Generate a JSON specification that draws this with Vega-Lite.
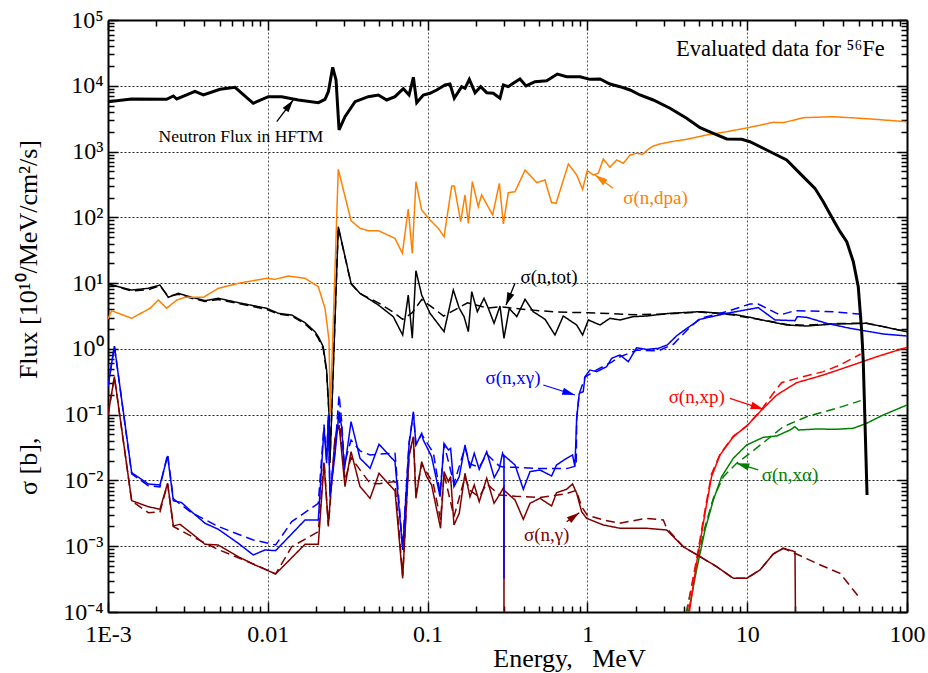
{
  "$schema": "https://vega.github.io/schema/vega-lite/v6.json",
  "width": 799,
  "height": 592,
  "autosize": {"type": "none"},
  "padding": {"left": 108, "top": 20, "right": 21, "bottom": 61},
  "background": "white",
  "config": {"view": {"stroke": null}, "font": "Liberation Serif"},
  "datasets": {
    "flux": [
      {"log10E":-3.000,"log10y":3.758},{"log10E":-2.852,"log10y":3.799},{"log10E":-2.633,"log10y":3.794},{"log10E":-2.591,"log10y":3.845},{"log10E":-2.570,"log10y":3.799},{"log10E":-2.508,"log10y":3.860},{"log10E":-2.456,"log10y":3.916},{"log10E":-2.403,"log10y":3.860},{"log10E":-2.299,"log10y":3.946},{"log10E":-2.205,"log10y":3.977},{"log10E":-2.091,"log10y":3.734},{"log10E":-1.997,"log10y":3.834},{"log10E":-1.913,"log10y":3.834},{"log10E":-1.809,"log10y":3.784},{"log10E":-1.684,"log10y":3.743},{"log10E":-1.642,"log10y":3.794},{"log10E":-1.621,"log10y":3.910},{"log10E":-1.594,"log10y":4.281},{"log10E":-1.573,"log10y":4.088},{"log10E":-1.554,"log10y":3.328},{"log10E":-1.517,"log10y":3.530},{"log10E":-1.454,"log10y":3.758},{"log10E":-1.371,"log10y":3.834},{"log10E":-1.308,"log10y":3.860},{"log10E":-1.256,"log10y":3.784},{"log10E":-1.204,"log10y":3.834},{"log10E":-1.152,"log10y":3.956},{"log10E":-1.116,"log10y":3.860},{"log10E":-1.089,"log10y":4.129},{"log10E":-1.068,"log10y":3.743},{"log10E":-1.027,"log10y":3.860},{"log10E":-0.985,"log10y":3.886},{"log10E":-0.943,"log10y":3.936},{"log10E":-0.891,"log10y":4.012},{"log10E":-0.860,"log10y":4.027},{"log10E":-0.833,"log10y":3.810},{"log10E":-0.787,"log10y":3.986},{"log10E":-0.766,"log10y":3.961},{"log10E":-0.739,"log10y":4.098},{"log10E":-0.703,"log10y":3.895},{"log10E":-0.668,"log10y":3.986},{"log10E":-0.630,"log10y":3.895},{"log10E":-0.589,"log10y":3.886},{"log10E":-0.547,"log10y":3.810},{"log10E":-0.526,"log10y":4.012},{"log10E":-0.495,"log10y":3.986},{"log10E":-0.464,"log10y":4.038},{"log10E":-0.422,"log10y":4.103},{"log10E":-0.384,"log10y":3.997},{"log10E":-0.328,"log10y":4.062},{"log10E":-0.255,"log10y":4.077},{"log10E":-0.188,"log10y":4.179},{"log10E":-0.130,"log10y":4.138},{"log10E":-0.046,"log10y":4.138},{"log10E":0.016,"log10y":4.098},{"log10E":0.079,"log10y":4.103},{"log10E":0.141,"log10y":4.027},{"log10E":0.204,"log10y":3.986},{"log10E":0.267,"log10y":3.936},{"log10E":0.329,"log10y":3.860},{"log10E":0.412,"log10y":3.784},{"log10E":0.517,"log10y":3.658},{"log10E":0.621,"log10y":3.506},{"log10E":0.705,"log10y":3.363},{"log10E":0.788,"log10y":3.277},{"log10E":0.872,"log10y":3.191},{"log10E":0.966,"log10y":3.186},{"log10E":1.017,"log10y":3.150},{"log10E":1.122,"log10y":3.024},{"log10E":1.247,"log10y":2.872},{"log10E":1.330,"log10y":2.669},{"log10E":1.424,"log10y":2.441},{"log10E":1.476,"log10y":2.238},{"log10E":1.539,"log10y":1.960},{"log10E":1.581,"log10y":1.782},{"log10E":1.623,"log10y":1.630},{"log10E":1.664,"log10y":1.326},{"log10E":1.695,"log10y":0.946},{"log10E":1.716,"log10y":0.287},{"log10E":1.726,"log10y":-0.169},{"log10E":1.750,"log10y":-2.221}
    ],
    "curves": [
      {"series":"tot","lib":"A","log10E":-3.000,"log10y":0.987},{"series":"tot","lib":"A","log10E":-2.852,"log10y":0.895},{"series":"tot","lib":"A","log10E":-2.748,"log10y":0.921},{"series":"tot","lib":"A","log10E":-2.675,"log10y":0.971},{"series":"tot","lib":"A","log10E":-2.623,"log10y":0.784},{"series":"tot","lib":"A","log10E":-2.560,"log10y":0.845},{"series":"tot","lib":"A","log10E":-2.477,"log10y":0.784},{"series":"tot","lib":"A","log10E":-2.393,"log10y":0.733},{"series":"tot","lib":"A","log10E":-2.310,"log10y":0.769},{"series":"tot","lib":"A","log10E":-2.185,"log10y":0.703},{"series":"tot","lib":"A","log10E":-2.007,"log10y":0.617},{"series":"tot","lib":"A","log10E":-1.934,"log10y":0.541},{"series":"tot","lib":"A","log10E":-1.850,"log10y":0.515},{"series":"tot","lib":"A","log10E":-1.767,"log10y":0.398},{"series":"tot","lib":"A","log10E":-1.705,"log10y":0.262},{"series":"tot","lib":"A","log10E":-1.684,"log10y":0.185},{"series":"tot","lib":"A","log10E":-1.653,"log10y":0.033},{"series":"tot","lib":"A","log10E":-1.632,"log10y":-0.321},{"series":"tot","lib":"A","log10E":-1.617,"log10y":-0.979},{"series":"tot","lib":"A","log10E":-1.611,"log10y":-1.735},{"series":"tot","lib":"A","log10E":-1.559,"log10y":1.858},{"series":"tot","lib":"A","log10E":-1.479,"log10y":0.997},{"series":"tot","lib":"A","log10E":-1.423,"log10y":0.845},{"series":"tot","lib":"A","log10E":-1.308,"log10y":0.667},{"series":"tot","lib":"A","log10E":-1.215,"log10y":0.490},{"series":"tot","lib":"A","log10E":-1.156,"log10y":0.211},{"series":"tot","lib":"A","log10E":-1.121,"log10y":0.819},{"series":"tot","lib":"A","log10E":-1.096,"log10y":0.161},{"series":"tot","lib":"A","log10E":-1.073,"log10y":1.189},{"series":"tot","lib":"A","log10E":-1.037,"log10y":0.819},{"series":"tot","lib":"A","log10E":-0.985,"log10y":0.541},{"series":"tot","lib":"A","log10E":-0.897,"log10y":0.262},{"series":"tot","lib":"A","log10E":-0.839,"log10y":0.895},{"series":"tot","lib":"A","log10E":-0.802,"log10y":0.617},{"series":"tot","lib":"A","log10E":-0.772,"log10y":0.490},{"series":"tot","lib":"A","log10E":-0.745,"log10y":0.262},{"series":"tot","lib":"A","log10E":-0.724,"log10y":0.870},{"series":"tot","lib":"A","log10E":-0.689,"log10y":0.566},{"series":"tot","lib":"A","log10E":-0.647,"log10y":0.769},{"series":"tot","lib":"A","log10E":-0.620,"log10y":0.617},{"series":"tot","lib":"A","log10E":-0.584,"log10y":0.389},{"series":"tot","lib":"A","log10E":-0.547,"log10y":0.652},{"series":"tot","lib":"A","log10E":-0.522,"log10y":0.161},{"series":"tot","lib":"A","log10E":-0.489,"log10y":0.617},{"series":"tot","lib":"A","log10E":-0.442,"log10y":0.490},{"series":"tot","lib":"A","log10E":-0.390,"log10y":0.754},{"series":"tot","lib":"A","log10E":-0.339,"log10y":0.566},{"series":"tot","lib":"A","log10E":-0.265,"log10y":0.450},{"series":"tot","lib":"A","log10E":-0.203,"log10y":0.211},{"series":"tot","lib":"A","log10E":-0.151,"log10y":0.500},{"series":"tot","lib":"A","log10E":-0.067,"log10y":0.363},{"series":"tot","lib":"A","log10E":-0.030,"log10y":0.211},{"series":"tot","lib":"A","log10E":0.006,"log10y":0.440},{"series":"tot","lib":"A","log10E":0.079,"log10y":0.363},{"series":"tot","lib":"A","log10E":0.141,"log10y":0.465},{"series":"tot","lib":"A","log10E":0.204,"log10y":0.440},{"series":"tot","lib":"A","log10E":0.287,"log10y":0.490},{"series":"tot","lib":"A","log10E":0.371,"log10y":0.500},{"series":"tot","lib":"A","log10E":0.517,"log10y":0.541},{"series":"tot","lib":"A","log10E":0.705,"log10y":0.566},{"series":"tot","lib":"A","log10E":0.913,"log10y":0.526},{"series":"tot","lib":"A","log10E":1.017,"log10y":0.480},{"series":"tot","lib":"A","log10E":1.122,"log10y":0.424},{"series":"tot","lib":"A","log10E":1.247,"log10y":0.363},{"series":"tot","lib":"A","log10E":1.372,"log10y":0.348},{"series":"tot","lib":"A","log10E":1.539,"log10y":0.378},{"series":"tot","lib":"A","log10E":1.747,"log10y":0.389},{"series":"tot","lib":"A","log10E":1.831,"log10y":0.348},{"series":"tot","lib":"A","log10E":1.998,"log10y":0.262},
      {"series":"tot","lib":"B","log10E":-3.000,"log10y":0.987},{"series":"tot","lib":"B","log10E":-2.852,"log10y":0.88},{"series":"tot","lib":"B","log10E":-2.748,"log10y":0.90},{"series":"tot","lib":"B","log10E":-2.675,"log10y":0.96},{"series":"tot","lib":"B","log10E":-2.623,"log10y":0.80},{"series":"tot","lib":"B","log10E":-2.560,"log10y":0.83},{"series":"tot","lib":"B","log10E":-2.477,"log10y":0.77},{"series":"tot","lib":"B","log10E":-2.393,"log10y":0.72},{"series":"tot","lib":"B","log10E":-2.310,"log10y":0.75},{"series":"tot","lib":"B","log10E":-2.185,"log10y":0.69},{"series":"tot","lib":"B","log10E":-2.007,"log10y":0.60},{"series":"tot","lib":"B","log10E":-1.934,"log10y":0.53},{"series":"tot","lib":"B","log10E":-1.850,"log10y":0.50},{"series":"tot","lib":"B","log10E":-1.767,"log10y":0.38},{"series":"tot","lib":"B","log10E":-1.705,"log10y":0.24},{"series":"tot","lib":"B","log10E":-1.684,"log10y":0.16},{"series":"tot","lib":"B","log10E":-1.653,"log10y":0.0},{"series":"tot","lib":"B","log10E":-1.632,"log10y":-0.35},{"series":"tot","lib":"B","log10E":-1.617,"log10y":-0.98},{"series":"tot","lib":"B","log10E":-1.611,"log10y":-1.70},{"series":"tot","lib":"B","log10E":-1.559,"log10y":1.85},{"series":"tot","lib":"B","log10E":-1.479,"log10y":0.99},{"series":"tot","lib":"B","log10E":-1.423,"log10y":0.84},{"series":"tot","lib":"B","log10E":-1.308,"log10y":0.70},{"series":"tot","lib":"B","log10E":-1.215,"log10y":0.56},{"series":"tot","lib":"B","log10E":-1.156,"log10y":0.45},{"series":"tot","lib":"B","log10E":-1.096,"log10y":0.55},{"series":"tot","lib":"B","log10E":-1.037,"log10y":0.75},{"series":"tot","lib":"B","log10E":-0.964,"log10y":0.62},{"series":"tot","lib":"B","log10E":-0.900,"log10y":0.50},{"series":"tot","lib":"B","log10E":-0.750,"log10y":0.70},{"series":"tot","lib":"B","log10E":-0.620,"log10y":0.62},{"series":"tot","lib":"B","log10E":-0.550,"log10y":0.64},{"series":"tot","lib":"B","log10E":-0.390,"log10y":0.60},{"series":"tot","lib":"B","log10E":-0.200,"log10y":0.56},{"series":"tot","lib":"B","log10E":0.000,"log10y":0.55},{"series":"tot","lib":"B","log10E":0.300,"log10y":0.52},{"series":"tot","lib":"B","log10E":0.500,"log10y":0.53},{"series":"tot","lib":"B","log10E":0.700,"log10y":0.56},{"series":"tot","lib":"B","log10E":0.900,"log10y":0.52},{"series":"tot","lib":"B","log10E":1.120,"log10y":0.43},{"series":"tot","lib":"B","log10E":1.250,"log10y":0.37},{"series":"tot","lib":"B","log10E":1.370,"log10y":0.36},{"series":"tot","lib":"B","log10E":1.540,"log10y":0.385},{"series":"tot","lib":"B","log10E":1.747,"log10y":0.39},{"series":"tot","lib":"B","log10E":1.830,"log10y":0.35},{"series":"tot","lib":"B","log10E":2.000,"log10y":0.26},
      {"series":"dpa","lib":"A","log10E":-3.000,"log10y":0.455},{"series":"dpa","lib":"A","log10E":-2.977,"log10y":0.581},{"series":"dpa","lib":"A","log10E":-2.852,"log10y":0.465},{"series":"dpa","lib":"A","log10E":-2.737,"log10y":0.617},{"series":"dpa","lib":"A","log10E":-2.685,"log10y":0.743},{"series":"dpa","lib":"A","log10E":-2.633,"log10y":0.617},{"series":"dpa","lib":"A","log10E":-2.570,"log10y":0.743},{"series":"dpa","lib":"A","log10E":-2.518,"log10y":0.784},{"series":"dpa","lib":"A","log10E":-2.403,"log10y":0.784},{"series":"dpa","lib":"A","log10E":-2.310,"log10y":0.921},{"series":"dpa","lib":"A","log10E":-2.185,"log10y":0.997},{"series":"dpa","lib":"A","log10E":-2.007,"log10y":1.073},{"series":"dpa","lib":"A","log10E":-1.955,"log10y":1.058},{"series":"dpa","lib":"A","log10E":-1.872,"log10y":1.108},{"series":"dpa","lib":"A","log10E":-1.767,"log10y":1.073},{"series":"dpa","lib":"A","log10E":-1.684,"log10y":0.946},{"series":"dpa","lib":"A","log10E":-1.642,"log10y":0.617},{"series":"dpa","lib":"A","log10E":-1.617,"log10y":0.135},{"series":"dpa","lib":"A","log10E":-1.609,"log10y":-0.979},{"series":"dpa","lib":"A","log10E":-1.559,"log10y":2.730},{"series":"dpa","lib":"A","log10E":-1.479,"log10y":1.949},{"series":"dpa","lib":"A","log10E":-1.423,"log10y":1.833},{"series":"dpa","lib":"A","log10E":-1.371,"log10y":1.797},{"series":"dpa","lib":"A","log10E":-1.308,"log10y":1.797},{"series":"dpa","lib":"A","log10E":-1.204,"log10y":1.681},{"series":"dpa","lib":"A","log10E":-1.158,"log10y":1.453},{"series":"dpa","lib":"A","log10E":-1.121,"log10y":2.127},{"series":"dpa","lib":"A","log10E":-1.096,"log10y":1.453},{"series":"dpa","lib":"A","log10E":-1.073,"log10y":2.542},{"series":"dpa","lib":"A","log10E":-1.037,"log10y":2.112},{"series":"dpa","lib":"A","log10E":-0.985,"log10y":1.960},{"series":"dpa","lib":"A","log10E":-0.933,"log10y":1.833},{"series":"dpa","lib":"A","log10E":-0.897,"log10y":1.706},{"series":"dpa","lib":"A","log10E":-0.849,"log10y":2.476},{"series":"dpa","lib":"A","log10E":-0.833,"log10y":2.476},{"series":"dpa","lib":"A","log10E":-0.793,"log10y":1.934},{"series":"dpa","lib":"A","log10E":-0.766,"log10y":2.340},{"series":"dpa","lib":"A","log10E":-0.745,"log10y":1.909},{"series":"dpa","lib":"A","log10E":-0.720,"log10y":2.542},{"series":"dpa","lib":"A","log10E":-0.683,"log10y":2.162},{"series":"dpa","lib":"A","log10E":-0.662,"log10y":2.340},{"series":"dpa","lib":"A","log10E":-0.593,"log10y":2.036},{"series":"dpa","lib":"A","log10E":-0.551,"log10y":2.517},{"series":"dpa","lib":"A","log10E":-0.526,"log10y":1.899},{"series":"dpa","lib":"A","log10E":-0.495,"log10y":2.375},{"series":"dpa","lib":"A","log10E":-0.453,"log10y":2.390},{"series":"dpa","lib":"A","log10E":-0.390,"log10y":2.720},{"series":"dpa","lib":"A","log10E":-0.317,"log10y":2.527},{"series":"dpa","lib":"A","log10E":-0.265,"log10y":2.568},{"series":"dpa","lib":"A","log10E":-0.255,"log10y":2.476},{"series":"dpa","lib":"A","log10E":-0.224,"log10y":2.223},{"series":"dpa","lib":"A","log10E":-0.196,"log10y":2.213},{"series":"dpa","lib":"A","log10E":-0.119,"log10y":2.811},{"series":"dpa","lib":"A","log10E":-0.067,"log10y":2.644},{"series":"dpa","lib":"A","log10E":-0.030,"log10y":2.426},{"series":"dpa","lib":"A","log10E":-0.001,"log10y":2.710},{"series":"dpa","lib":"A","log10E":0.037,"log10y":2.644},{"series":"dpa","lib":"A","log10E":0.068,"log10y":2.670},{"series":"dpa","lib":"A","log10E":0.100,"log10y":2.887},{"series":"dpa","lib":"A","log10E":0.141,"log10y":2.761},{"series":"dpa","lib":"A","log10E":0.183,"log10y":2.872},{"series":"dpa","lib":"A","log10E":0.225,"log10y":2.822},{"series":"dpa","lib":"A","log10E":0.267,"log10y":2.948},{"series":"dpa","lib":"A","log10E":0.308,"log10y":2.974},{"series":"dpa","lib":"A","log10E":0.346,"log10y":2.958},{"series":"dpa","lib":"A","log10E":0.375,"log10y":3.024},{"series":"dpa","lib":"A","log10E":0.412,"log10y":3.085},{"series":"dpa","lib":"A","log10E":0.454,"log10y":3.115},{"series":"dpa","lib":"A","log10E":0.538,"log10y":3.156},{"series":"dpa","lib":"A","log10E":0.621,"log10y":3.186},{"series":"dpa","lib":"A","log10E":0.746,"log10y":3.252},{"series":"dpa","lib":"A","log10E":0.872,"log10y":3.302},{"series":"dpa","lib":"A","log10E":1.007,"log10y":3.363},{"series":"dpa","lib":"A","log10E":1.163,"log10y":3.445},{"series":"dpa","lib":"A","log10E":1.226,"log10y":3.439},{"series":"dpa","lib":"A","log10E":1.351,"log10y":3.515},{"series":"dpa","lib":"A","log10E":1.539,"log10y":3.530},{"series":"dpa","lib":"A","log10E":1.747,"log10y":3.500},{"series":"dpa","lib":"A","log10E":1.997,"log10y":3.454},
      {"series":"xa","lib":"A","log10E":0.631,"log10y":-4.02},{"series":"xa","lib":"A","log10E":0.683,"log10y":-3.361},{"series":"xa","lib":"A","log10E":0.736,"log10y":-2.753},{"series":"xa","lib":"A","log10E":0.788,"log10y":-2.297},{"series":"xa","lib":"A","log10E":0.840,"log10y":-1.942},{"series":"xa","lib":"A","log10E":0.913,"log10y":-1.663},{"series":"xa","lib":"A","log10E":0.997,"log10y":-1.461},{"series":"xa","lib":"A","log10E":1.101,"log10y":-1.344},{"series":"xa","lib":"A","log10E":1.185,"log10y":-1.324},{"series":"xa","lib":"A","log10E":1.268,"log10y":-1.233},{"series":"xa","lib":"A","log10E":1.299,"log10y":-1.182},{"series":"xa","lib":"A","log10E":1.320,"log10y":-1.233},{"series":"xa","lib":"A","log10E":1.434,"log10y":-1.218},{"series":"xa","lib":"A","log10E":1.560,"log10y":-1.222},{"series":"xa","lib":"A","log10E":1.664,"log10y":-1.207},{"series":"xa","lib":"A","log10E":1.747,"log10y":-1.131},{"series":"xa","lib":"A","log10E":1.851,"log10y":-1.005},{"series":"xa","lib":"A","log10E":2.000,"log10y":-0.853},
      {"series":"xa","lib":"B","log10E":0.617,"log10y":-4.02},{"series":"xa","lib":"B","log10E":0.673,"log10y":-3.36},{"series":"xa","lib":"B","log10E":0.736,"log10y":-2.703},{"series":"xa","lib":"B","log10E":0.788,"log10y":-2.271},{"series":"xa","lib":"B","log10E":0.851,"log10y":-1.942},{"series":"xa","lib":"B","log10E":0.934,"log10y":-1.739},{"series":"xa","lib":"B","log10E":1.017,"log10y":-1.587},{"series":"xa","lib":"B","log10E":1.122,"log10y":-1.385},{"series":"xa","lib":"B","log10E":1.226,"log10y":-1.182},{"series":"xa","lib":"B","log10E":1.372,"log10y":-1.031},{"series":"xa","lib":"B","log10E":1.560,"log10y":-0.903},{"series":"xa","lib":"B","log10E":1.710,"log10y":-0.787},
      {"series":"xp","lib":"A","log10E":0.637,"log10y":-4.02},{"series":"xp","lib":"A","log10E":0.683,"log10y":-3.260},{"series":"xp","lib":"A","log10E":0.736,"log10y":-2.500},{"series":"xp","lib":"A","log10E":0.777,"log10y":-1.942},{"series":"xp","lib":"A","log10E":0.830,"log10y":-1.613},{"series":"xp","lib":"A","log10E":0.913,"log10y":-1.335},{"series":"xp","lib":"A","log10E":0.997,"log10y":-1.172},{"series":"xp","lib":"A","log10E":1.080,"log10y":-0.955},{"series":"xp","lib":"A","log10E":1.185,"log10y":-0.701},{"series":"xp","lib":"A","log10E":1.309,"log10y":-0.514},{"series":"xp","lib":"A","log10E":1.476,"log10y":-0.397},{"series":"xp","lib":"A","log10E":1.643,"log10y":-0.260},{"series":"xp","lib":"A","log10E":1.810,"log10y":-0.119},{"series":"xp","lib":"A","log10E":2.000,"log10y":0.024},
      {"series":"xp","lib":"B","log10E":0.622,"log10y":-4.02},{"series":"xp","lib":"B","log10E":0.683,"log10y":-3.20},{"series":"xp","lib":"B","log10E":0.736,"log10y":-2.45},{"series":"xp","lib":"B","log10E":0.777,"log10y":-1.90},{"series":"xp","lib":"B","log10E":0.830,"log10y":-1.60},{"series":"xp","lib":"B","log10E":0.913,"log10y":-1.33},{"series":"xp","lib":"B","log10E":0.997,"log10y":-1.17},{"series":"xp","lib":"B","log10E":1.080,"log10y":-0.955},{"series":"xp","lib":"B","log10E":1.163,"log10y":-0.675},{"series":"xp","lib":"B","log10E":1.215,"log10y":-0.514},{"series":"xp","lib":"B","log10E":1.309,"log10y":-0.448},{"series":"xp","lib":"B","log10E":1.476,"log10y":-0.346},{"series":"xp","lib":"B","log10E":1.581,"log10y":-0.245},{"series":"xp","lib":"B","log10E":1.710,"log10y":-0.078},
      {"series":"g","lib":"A","log10E":-3.000,"log10y":-1.005},{"series":"g","lib":"A","log10E":-2.960,"log10y":-0.423},{"series":"g","lib":"A","log10E":-2.852,"log10y":-2.307},{"series":"g","lib":"A","log10E":-2.748,"log10y":-2.399},{"series":"g","lib":"A","log10E":-2.675,"log10y":-2.438},{"series":"g","lib":"A","log10E":-2.627,"log10y":-2.043},{"series":"g","lib":"A","log10E":-2.591,"log10y":-2.692},{"series":"g","lib":"A","log10E":-2.550,"log10y":-2.666},{"series":"g","lib":"A","log10E":-2.477,"log10y":-2.804},{"series":"g","lib":"A","log10E":-2.393,"log10y":-2.970},{"series":"g","lib":"A","log10E":-2.310,"log10y":-2.981},{"series":"g","lib":"A","log10E":-2.185,"log10y":-3.159},{"series":"g","lib":"A","log10E":-2.080,"log10y":-3.285},{"series":"g","lib":"A","log10E":-1.951,"log10y":-3.422},{"series":"g","lib":"A","log10E":-1.767,"log10y":-2.970},{"series":"g","lib":"A","log10E":-1.684,"log10y":-2.970},{"series":"g","lib":"A","log10E":-1.648,"log10y":-1.739},{"series":"g","lib":"A","log10E":-1.621,"log10y":-2.677},{"series":"g","lib":"A","log10E":-1.580,"log10y":-1.360},{"series":"g","lib":"A","log10E":-1.554,"log10y":-1.157},{"series":"g","lib":"A","log10E":-1.517,"log10y":-2.094},{"series":"g","lib":"A","log10E":-1.479,"log10y":-1.562},{"series":"g","lib":"A","log10E":-1.423,"log10y":-2.094},{"series":"g","lib":"A","log10E":-1.360,"log10y":-2.271},{"series":"g","lib":"A","log10E":-1.304,"log10y":-1.891},{"series":"g","lib":"A","log10E":-1.204,"log10y":-2.160},{"series":"g","lib":"A","log10E":-1.156,"log10y":-3.488},{"series":"g","lib":"A","log10E":-1.116,"log10y":-1.613},{"series":"g","lib":"A","log10E":-1.089,"log10y":-1.335},{"series":"g","lib":"A","log10E":-1.073,"log10y":-2.271},{"series":"g","lib":"A","log10E":-1.037,"log10y":-1.714},{"series":"g","lib":"A","log10E":-1.006,"log10y":-1.942},{"series":"g","lib":"A","log10E":-0.975,"log10y":-2.069},{"series":"g","lib":"A","log10E":-0.919,"log10y":-2.727},{"series":"g","lib":"A","log10E":-0.897,"log10y":-1.866},{"series":"g","lib":"A","log10E":-0.870,"log10y":-2.018},{"series":"g","lib":"A","log10E":-0.856,"log10y":-1.942},{"series":"g","lib":"A","log10E":-0.835,"log10y":-2.677},{"series":"g","lib":"A","log10E":-0.802,"log10y":-2.500},{"series":"g","lib":"A","log10E":-0.766,"log10y":-1.891},{"series":"g","lib":"A","log10E":-0.735,"log10y":-2.247},{"series":"g","lib":"A","log10E":-0.708,"log10y":-2.069},{"series":"g","lib":"A","log10E":-0.677,"log10y":-2.323},{"series":"g","lib":"A","log10E":-0.630,"log10y":-1.967},{"series":"g","lib":"A","log10E":-0.584,"log10y":-2.347},{"series":"g","lib":"A","log10E":-0.551,"log10y":-2.221},{"series":"g","lib":"A","log10E":-0.5225,"log10y":-2.10},{"series":"g","lib":"A","log10E":-0.5220,"log10y":-4.5},{"series":"g","lib":"A","log10E":-0.5215,"log10y":-2.15},{"series":"g","lib":"A","log10E":-0.453,"log10y":-2.297},{"series":"g","lib":"A","log10E":-0.401,"log10y":-2.591},{"series":"g","lib":"A","log10E":-0.359,"log10y":-2.347},{"series":"g","lib":"A","log10E":-0.297,"log10y":-2.271},{"series":"g","lib":"A","log10E":-0.224,"log10y":-2.388},{"series":"g","lib":"A","log10E":-0.193,"log10y":-2.186},{"series":"g","lib":"A","log10E":-0.130,"log10y":-2.134},{"series":"g","lib":"A","log10E":-0.093,"log10y":-2.054},{"series":"g","lib":"A","log10E":-0.067,"log10y":-2.195},{"series":"g","lib":"A","log10E":-0.036,"log10y":-2.475},{"series":"g","lib":"A","log10E":-0.005,"log10y":-2.576},{"series":"g","lib":"A","log10E":0.100,"log10y":-2.677},{"series":"g","lib":"A","log10E":0.204,"log10y":-2.727},{"series":"g","lib":"A","log10E":0.371,"log10y":-2.727},{"series":"g","lib":"A","log10E":0.496,"log10y":-2.753},{"series":"g","lib":"A","log10E":0.600,"log10y":-3.007},{"series":"g","lib":"A","log10E":0.705,"log10y":-3.159},{"series":"g","lib":"A","log10E":0.809,"log10y":-3.311},{"series":"g","lib":"A","log10E":0.913,"log10y":-3.488},{"series":"g","lib":"A","log10E":0.997,"log10y":-3.488},{"series":"g","lib":"A","log10E":1.080,"log10y":-3.361},{"series":"g","lib":"A","log10E":1.163,"log10y":-3.118},{"series":"g","lib":"A","log10E":1.226,"log10y":-3.031},{"series":"g","lib":"A","log10E":1.299,"log10y":-3.083},{"series":"g","lib":"A","log10E":1.3035,"log10y":-4.5},
      {"series":"g","lib":"B","log10E":-3.000,"log10y":-1.005},{"series":"g","lib":"B","log10E":-2.960,"log10y":-0.423},{"series":"g","lib":"B","log10E":-2.852,"log10y":-2.31},{"series":"g","lib":"B","log10E":-2.748,"log10y":-2.49},{"series":"g","lib":"B","log10E":-2.675,"log10y":-2.48},{"series":"g","lib":"B","log10E":-2.627,"log10y":-2.05},{"series":"g","lib":"B","log10E":-2.591,"log10y":-2.70},{"series":"g","lib":"B","log10E":-2.477,"log10y":-2.85},{"series":"g","lib":"B","log10E":-2.310,"log10y":-3.05},{"series":"g","lib":"B","log10E":-2.091,"log10y":-3.27},{"series":"g","lib":"B","log10E":-1.951,"log10y":-3.42},{"series":"g","lib":"B","log10E":-1.850,"log10y":-3.007},{"series":"g","lib":"B","log10E":-1.684,"log10y":-2.779},{"series":"g","lib":"B","log10E":-1.648,"log10y":-1.70},{"series":"g","lib":"B","log10E":-1.621,"log10y":-2.70},{"series":"g","lib":"B","log10E":-1.580,"log10y":-1.40},{"series":"g","lib":"B","log10E":-1.554,"log10y":-1.05},{"series":"g","lib":"B","log10E":-1.517,"log10y":-2.0},{"series":"g","lib":"B","log10E":-1.479,"log10y":-1.65},{"series":"g","lib":"B","log10E":-1.423,"log10y":-1.84},{"series":"g","lib":"B","log10E":-1.360,"log10y":-2.043},{"series":"g","lib":"B","log10E":-1.304,"log10y":-2.05},{"series":"g","lib":"B","log10E":-1.204,"log10y":-2.018},{"series":"g","lib":"B","log10E":-1.156,"log10y":-3.45},{"series":"g","lib":"B","log10E":-1.116,"log10y":-1.62},{"series":"g","lib":"B","log10E":-1.089,"log10y":-1.35},{"series":"g","lib":"B","log10E":-1.073,"log10y":-2.2},{"series":"g","lib":"B","log10E":-1.037,"log10y":-1.75},{"series":"g","lib":"B","log10E":-0.964,"log10y":-2.05},{"series":"g","lib":"B","log10E":-0.919,"log10y":-2.6},{"series":"g","lib":"B","log10E":-0.897,"log10y":-1.90},{"series":"g","lib":"B","log10E":-0.835,"log10y":-2.55},{"series":"g","lib":"B","log10E":-0.766,"log10y":-1.95},{"series":"g","lib":"B","log10E":-0.735,"log10y":-2.15},{"series":"g","lib":"B","log10E":-0.677,"log10y":-2.25},{"series":"g","lib":"B","log10E":-0.630,"log10y":-2.05},{"series":"g","lib":"B","log10E":-0.551,"log10y":-2.22},{"series":"g","lib":"B","log10E":-0.450,"log10y":-2.24},{"series":"g","lib":"B","log10E":-0.300,"log10y":-2.26},{"series":"g","lib":"B","log10E":-0.130,"log10y":-2.20},{"series":"g","lib":"B","log10E":-0.070,"log10y":-2.15},{"series":"g","lib":"B","log10E":-0.036,"log10y":-2.40},{"series":"g","lib":"B","log10E":0.000,"log10y":-2.53},{"series":"g","lib":"B","log10E":0.100,"log10y":-2.60},{"series":"g","lib":"B","log10E":0.200,"log10y":-2.651},{"series":"g","lib":"B","log10E":0.370,"log10y":-2.576},{"series":"g","lib":"B","log10E":0.475,"log10y":-2.60},{"series":"g","lib":"B","log10E":0.496,"log10y":-2.727},{"series":"g","lib":"B","log10E":0.600,"log10y":-3.007},{"series":"g","lib":"B","log10E":0.705,"log10y":-3.159},{"series":"g","lib":"B","log10E":0.809,"log10y":-3.311},{"series":"g","lib":"B","log10E":0.913,"log10y":-3.488},{"series":"g","lib":"B","log10E":0.997,"log10y":-3.488},{"series":"g","lib":"B","log10E":1.080,"log10y":-3.361},{"series":"g","lib":"B","log10E":1.163,"log10y":-3.118},{"series":"g","lib":"B","log10E":1.226,"log10y":-3.031},{"series":"g","lib":"B","log10E":1.309,"log10y":-3.118},{"series":"g","lib":"B","log10E":1.434,"log10y":-3.260},{"series":"g","lib":"B","log10E":1.581,"log10y":-3.412},{"series":"g","lib":"B","log10E":1.706,"log10y":-3.792},
      {"series":"xg","lib":"A","log10E":-3.000,"log10y":-0.574},{"series":"xg","lib":"A","log10E":-2.960,"log10y":0.044},{"series":"xg","lib":"A","log10E":-2.852,"log10y":-1.882},{"series":"xg","lib":"A","log10E":-2.748,"log10y":-2.054},{"series":"xg","lib":"A","log10E":-2.675,"log10y":-2.069},{"series":"xg","lib":"A","log10E":-2.627,"log10y":-1.628},{"series":"xg","lib":"A","log10E":-2.591,"log10y":-2.307},{"series":"xg","lib":"A","log10E":-2.539,"log10y":-2.338},{"series":"xg","lib":"A","log10E":-2.477,"log10y":-2.475},{"series":"xg","lib":"A","log10E":-2.393,"log10y":-2.651},{"series":"xg","lib":"A","log10E":-2.310,"log10y":-2.742},{"series":"xg","lib":"A","log10E":-2.185,"log10y":-2.955},{"series":"xg","lib":"A","log10E":-2.091,"log10y":-3.133},{"series":"xg","lib":"A","log10E":-2.018,"log10y":-3.057},{"series":"xg","lib":"A","log10E":-1.951,"log10y":-3.067},{"series":"xg","lib":"A","log10E":-1.767,"log10y":-2.601},{"series":"xg","lib":"A","log10E":-1.684,"log10y":-2.601},{"series":"xg","lib":"A","log10E":-1.648,"log10y":-1.192},{"series":"xg","lib":"A","log10E":-1.632,"log10y":-1.739},{"series":"xg","lib":"A","log10E":-1.621,"log10y":-1.031},{"series":"xg","lib":"A","log10E":-1.611,"log10y":-2.247},{"series":"xg","lib":"A","log10E":-1.580,"log10y":-1.613},{"series":"xg","lib":"A","log10E":-1.554,"log10y":-0.955},{"series":"xg","lib":"A","log10E":-1.538,"log10y":-1.183},{"series":"xg","lib":"A","log10E":-1.521,"log10y":-1.841},{"series":"xg","lib":"A","log10E":-1.479,"log10y":-1.107},{"series":"xg","lib":"A","log10E":-1.423,"log10y":-1.663},{"series":"xg","lib":"A","log10E":-1.360,"log10y":-1.815},{"series":"xg","lib":"A","log10E":-1.304,"log10y":-1.450},{"series":"xg","lib":"A","log10E":-1.204,"log10y":-1.714},{"series":"xg","lib":"A","log10E":-1.156,"log10y":-3.057},{"series":"xg","lib":"A","log10E":-1.116,"log10y":-1.461},{"series":"xg","lib":"A","log10E":-1.089,"log10y":-0.955},{"series":"xg","lib":"A","log10E":-1.073,"log10y":-1.461},{"series":"xg","lib":"A","log10E":-1.037,"log10y":-1.284},{"series":"xg","lib":"A","log10E":-1.027,"log10y":-1.385},{"series":"xg","lib":"A","log10E":-0.975,"log10y":-1.638},{"series":"xg","lib":"A","log10E":-0.922,"log10y":-2.247},{"series":"xg","lib":"A","log10E":-0.897,"log10y":-1.436},{"series":"xg","lib":"A","log10E":-0.870,"log10y":-1.537},{"series":"xg","lib":"A","log10E":-0.856,"log10y":-1.512},{"series":"xg","lib":"A","log10E":-0.835,"log10y":-2.094},{"series":"xg","lib":"A","log10E":-0.802,"log10y":-1.942},{"series":"xg","lib":"A","log10E":-0.766,"log10y":-1.461},{"series":"xg","lib":"A","log10E":-0.735,"log10y":-1.815},{"series":"xg","lib":"A","log10E":-0.708,"log10y":-1.587},{"series":"xg","lib":"A","log10E":-0.677,"log10y":-1.831},{"series":"xg","lib":"A","log10E":-0.630,"log10y":-1.562},{"series":"xg","lib":"A","log10E":-0.583,"log10y":-1.957},{"series":"xg","lib":"A","log10E":-0.551,"log10y":-1.815},{"series":"xg","lib":"A","log10E":-0.531,"log10y":-1.587},{"series":"xg","lib":"A","log10E":-0.5225,"log10y":-1.65},{"series":"xg","lib":"A","log10E":-0.5220,"log10y":-3.49},{"series":"xg","lib":"A","log10E":-0.5215,"log10y":-1.62},{"series":"xg","lib":"A","log10E":-0.453,"log10y":-1.765},{"series":"xg","lib":"A","log10E":-0.401,"log10y":-2.134},{"series":"xg","lib":"A","log10E":-0.359,"log10y":-1.866},{"series":"xg","lib":"A","log10E":-0.297,"log10y":-1.841},{"series":"xg","lib":"A","log10E":-0.224,"log10y":-1.932},{"series":"xg","lib":"A","log10E":-0.193,"log10y":-1.765},{"series":"xg","lib":"A","log10E":-0.130,"log10y":-1.663},{"series":"xg","lib":"A","log10E":-0.093,"log10y":-1.613},{"series":"xg","lib":"A","log10E":-0.078,"log10y":-1.790},{"series":"xg","lib":"A","log10E":-0.067,"log10y":-1.055},{"series":"xg","lib":"A","log10E":-0.051,"log10y":-0.675},{"series":"xg","lib":"A","log10E":-0.026,"log10y":-0.651},{"series":"xg","lib":"A","log10E":-0.015,"log10y":-0.423},{"series":"xg","lib":"A","log10E":0.016,"log10y":-0.321},{"series":"xg","lib":"A","log10E":0.058,"log10y":-0.346},{"series":"xg","lib":"A","log10E":0.120,"log10y":-0.271},{"series":"xg","lib":"A","log10E":0.152,"log10y":-0.143},{"series":"xg","lib":"A","log10E":0.204,"log10y":-0.093},{"series":"xg","lib":"A","log10E":0.256,"log10y":-0.195},{"series":"xg","lib":"A","log10E":0.308,"log10y":0.017},{"series":"xg","lib":"A","log10E":0.371,"log10y":-0.008},{"series":"xg","lib":"A","log10E":0.444,"log10y":0.009},{"series":"xg","lib":"A","log10E":0.500,"log10y":0.06},{"series":"xg","lib":"A","log10E":0.559,"log10y":0.20},{"series":"xg","lib":"A","log10E":0.621,"log10y":0.31},{"series":"xg","lib":"A","log10E":0.705,"log10y":0.450},{"series":"xg","lib":"A","log10E":0.872,"log10y":0.541},{"series":"xg","lib":"A","log10E":1.069,"log10y":0.627},{"series":"xg","lib":"A","log10E":1.174,"log10y":0.440},{"series":"xg","lib":"A","log10E":1.299,"log10y":0.429},{"series":"xg","lib":"A","log10E":1.313,"log10y":0.490},{"series":"xg","lib":"A","log10E":1.372,"log10y":0.480},{"series":"xg","lib":"A","log10E":1.497,"log10y":0.389},{"series":"xg","lib":"A","log10E":1.643,"log10y":0.313},{"series":"xg","lib":"A","log10E":1.851,"log10y":0.227},{"series":"xg","lib":"A","log10E":1.998,"log10y":0.196},
      {"series":"xg","lib":"B","log10E":-3.000,"log10y":-0.574},{"series":"xg","lib":"B","log10E":-2.960,"log10y":0.044},{"series":"xg","lib":"B","log10E":-2.852,"log10y":-1.90},{"series":"xg","lib":"B","log10E":-2.748,"log10y":-2.08},{"series":"xg","lib":"B","log10E":-2.675,"log10y":-2.10},{"series":"xg","lib":"B","log10E":-2.627,"log10y":-1.60},{"series":"xg","lib":"B","log10E":-2.591,"log10y":-2.28},{"series":"xg","lib":"B","log10E":-2.477,"log10y":-2.49},{"series":"xg","lib":"B","log10E":-2.310,"log10y":-2.70},{"series":"xg","lib":"B","log10E":-2.091,"log10y":-2.905},{"series":"xg","lib":"B","log10E":-1.951,"log10y":-2.98},{"series":"xg","lib":"B","log10E":-1.850,"log10y":-2.626},{"series":"xg","lib":"B","log10E":-1.684,"log10y":-2.347},{"series":"xg","lib":"B","log10E":-1.648,"log10y":-1.15},{"series":"xg","lib":"B","log10E":-1.632,"log10y":-1.70},{"series":"xg","lib":"B","log10E":-1.621,"log10y":-1.0},{"series":"xg","lib":"B","log10E":-1.611,"log10y":-2.2},{"series":"xg","lib":"B","log10E":-1.580,"log10y":-1.55},{"series":"xg","lib":"B","log10E":-1.554,"log10y":-0.701},{"series":"xg","lib":"B","log10E":-1.538,"log10y":-1.10},{"series":"xg","lib":"B","log10E":-1.521,"log10y":-1.75},{"series":"xg","lib":"B","log10E":-1.479,"log10y":-1.385},{"series":"xg","lib":"B","log10E":-1.423,"log10y":-1.55},{"series":"xg","lib":"B","log10E":-1.360,"log10y":-1.613},{"series":"xg","lib":"B","log10E":-1.304,"log10y":-1.60},{"series":"xg","lib":"B","log10E":-1.204,"log10y":-1.587},{"series":"xg","lib":"B","log10E":-1.156,"log10y":-3.007},{"series":"xg","lib":"B","log10E":-1.116,"log10y":-1.42},{"series":"xg","lib":"B","log10E":-1.089,"log10y":-0.98},{"series":"xg","lib":"B","log10E":-1.073,"log10y":-1.45},{"series":"xg","lib":"B","log10E":-1.037,"log10y":-1.30},{"series":"xg","lib":"B","log10E":-0.964,"log10y":-1.58},{"series":"xg","lib":"B","log10E":-0.922,"log10y":-2.2},{"series":"xg","lib":"B","log10E":-0.897,"log10y":-1.45},{"series":"xg","lib":"B","log10E":-0.835,"log10y":-2.05},{"series":"xg","lib":"B","log10E":-0.766,"log10y":-1.50},{"series":"xg","lib":"B","log10E":-0.735,"log10y":-1.75},{"series":"xg","lib":"B","log10E":-0.677,"log10y":-1.80},{"series":"xg","lib":"B","log10E":-0.630,"log10y":-1.60},{"series":"xg","lib":"B","log10E":-0.551,"log10y":-1.78},{"series":"xg","lib":"B","log10E":-0.522,"log10y":-1.80},{"series":"xg","lib":"B","log10E":-0.450,"log10y":-1.80},{"series":"xg","lib":"B","log10E":-0.300,"log10y":-1.82},{"series":"xg","lib":"B","log10E":-0.130,"log10y":-1.82},{"series":"xg","lib":"B","log10E":-0.070,"log10y":-1.78},{"series":"xg","lib":"B","log10E":-0.067,"log10y":-1.06},{"series":"xg","lib":"B","log10E":-0.051,"log10y":-0.68},{"series":"xg","lib":"B","log10E":-0.015,"log10y":-0.43},{"series":"xg","lib":"B","log10E":0.058,"log10y":-0.32},{"series":"xg","lib":"B","log10E":0.152,"log10y":-0.20},{"series":"xg","lib":"B","log10E":0.204,"log10y":-0.12},{"series":"xg","lib":"B","log10E":0.308,"log10y":-0.02},{"series":"xg","lib":"B","log10E":0.444,"log10y":-0.03},{"series":"xg","lib":"B","log10E":0.538,"log10y":0.07},{"series":"xg","lib":"B","log10E":0.621,"log10y":0.28},{"series":"xg","lib":"B","log10E":0.705,"log10y":0.465},{"series":"xg","lib":"B","log10E":0.872,"log10y":0.566},{"series":"xg","lib":"B","log10E":1.017,"log10y":0.683},{"series":"xg","lib":"B","log10E":1.069,"log10y":0.683},{"series":"xg","lib":"B","log10E":1.122,"log10y":0.617},{"series":"xg","lib":"B","log10E":1.205,"log10y":0.515},{"series":"xg","lib":"B","log10E":1.299,"log10y":0.581},{"series":"xg","lib":"B","log10E":1.372,"log10y":0.576},{"series":"xg","lib":"B","log10E":1.539,"log10y":0.566},{"series":"xg","lib":"B","log10E":1.716,"log10y":0.526}
    ],
    "labels": [
      {"series":"dpa","text":"σ(n,dpa)","log10E":0.426,"log10y":2.294},
      {"series":"tot","text":"σ(n,tot)","log10E":-0.240,"log10y":1.093},
      {"series":"xg","text":"σ(n,xγ)","log10E":-0.466,"log10y":-0.442},
      {"series":"xp","text":"σ(n,xp)","log10E":0.684,"log10y":-0.731},
      {"series":"xa","text":"σ(n,xα)","log10E":1.268,"log10y":-1.917},
      {"series":"g","text":"σ(n,γ)","log10E":-0.255,"log10y":-2.829}
    ],
    "arrows": [
      {"series":"flux","log10E":-1.944,"log10y":3.454,"log10E2":-1.841,"log10y2":3.784,"heading":37},
      {"series":"dpa","log10E":0.160,"log10y":2.441,"log10E2":0.048,"log10y2":2.644,"heading":306},
      {"series":"tot","log10E":-0.453,"log10y":0.997,"log10E2":-0.509,"log10y2":0.667,"heading":202},
      {"series":"xg","log10E":-0.276,"log10y":-0.549,"log10E2":-0.078,"log10y2":-0.701,"heading":107},
      {"series":"xp","log10E":0.892,"log10y":-0.751,"log10E2":1.101,"log10y2":-0.918,"heading":108},
      {"series":"xa","log10E":1.069,"log10y":-1.841,"log10E2":0.934,"log10y2":-1.739,"heading":287},
      {"series":"g","log10E":-0.130,"log10y":-2.627,"log10E2":-0.051,"log10y2":-2.490,"heading":54}
    ]
  },
  "resolve": {"axis": {"x": "independent", "y": "independent"}},
  "layer": [
    {
      "data": {"name": "curves"},
      "mark": {"type": "line", "strokeWidth": 1.5, "clip": true},
      "encoding": {
        "x": {"field": "log10E", "type": "quantitative", "scale": {"domain": [-3, 2], "nice": false, "zero": false}, "axis": null},
        "y": {"field": "log10y", "type": "quantitative", "scale": {"domain": [-4, 5], "nice": false, "zero": false}, "axis": null},
        "color": {"field": "series", "type": "nominal", "legend": null, "scale": {"domain": ["flux", "tot", "dpa", "xg", "g", "xp", "xa"], "range": ["#000000", "#000000", "#FF8000", "#0000FF", "#800000", "#FF0000", "#008000"]}},
        "strokeDash": {"field": "lib", "type": "nominal", "legend": null, "scale": {"domain": ["A", "B"], "range": [[1, 0], [9, 5]]}}
      }
    },
    {
      "data": {"name": "flux"},
      "mark": {"type": "line", "strokeWidth": 3, "color": "#000000", "clip": true},
      "encoding": {
        "x": {"field": "log10E", "type": "quantitative", "scale": {"domain": [-3, 2], "nice": false, "zero": false},
          "axis": {
            "orient": "bottom",
            "values": [-3,-2.69897,-2.52288,-2.39794,-2.30103,-2.22185,-2.1549,-2.09691,-2.04576,-2,-1.69897,-1.52288,-1.39794,-1.30103,-1.22185,-1.1549,-1.09691,-1.04576,-1,-0.69897,-0.52288,-0.39794,-0.30103,-0.22185,-0.1549,-0.09691,-0.04576,0,0.30103,0.47712,0.60206,0.69897,0.77815,0.8451,0.90309,0.95424,1,1.30103,1.47712,1.60206,1.69897,1.77815,1.8451,1.90309,1.95424,2],
            "labelExpr": "datum.value == -3 ? '1E-3' : datum.value == -2 ? '0.01' : datum.value == -1 ? '0.1' : datum.value == 0 ? '1' : datum.value == 1 ? '10' : datum.value == 2 ? '100' : ''",
            "labelFlush": false, "labelOverlap": false,
            "labelFont": "Liberation Serif", "labelFontSize": 24, "labelColor": "#000000", "labelPadding": 20, "labelBaseline": "top",
            "grid": true, "gridColor": "#555555", "gridDash": [2, 2], "gridWidth": 1,
            "gridOpacity": {"condition": {"test": "datum.value == round(datum.value)", "value": 1}, "value": 0},
            "ticks": true, "tickColor": "#000000", "tickWidth": 1.5,
            "tickSize": {"condition": {"test": "datum.value == round(datum.value)", "value": -10}, "value": -6},
            "domainColor": "#000000", "domainWidth": 2,
            "title": "Energy,\u2002 MeV", "titleFont": "Liberation Serif", "titleFontSize": 26, "titleFontWeight": "normal", "titleColor": "#000000",
            "titleX": 461, "titleY": 46, "titleAlign": "center", "titleBaseline": "middle"
          }
        },
        "y": {"field": "log10y", "type": "quantitative", "scale": {"domain": [-4, 5], "nice": false, "zero": false},
          "axis": {
            "orient": "left",
            "values": [-4,-3.69897,-3.52288,-3.39794,-3.30103,-3.22185,-3.1549,-3.09691,-3.04576,-3,-2.69897,-2.52288,-2.39794,-2.30103,-2.22185,-2.1549,-2.09691,-2.04576,-2,-1.69897,-1.52288,-1.39794,-1.30103,-1.22185,-1.1549,-1.09691,-1.04576,-1,-0.69897,-0.52288,-0.39794,-0.30103,-0.22185,-0.1549,-0.09691,-0.04576,0,0.30103,0.47712,0.60206,0.69897,0.77815,0.8451,0.90309,0.95424,1,1.30103,1.47712,1.60206,1.69897,1.77815,1.8451,1.90309,1.95424,2,2.30103,2.47712,2.60206,2.69897,2.77815,2.8451,2.90309,2.95424,3,3.30103,3.47712,3.60206,3.69897,3.77815,3.8451,3.90309,3.95424,4,4.30103,4.47712,4.60206,4.69897,4.77815,4.8451,4.90309,4.95424,5],
            "labelExpr": "datum.value == 5 ? '10⁵' : datum.value == 4 ? '10⁴' : datum.value == 3 ? '10³' : datum.value == 2 ? '10²' : datum.value == 1 ? '10¹' : datum.value == 0 ? '10⁰' : datum.value == -1 ? '10⁻¹' : datum.value == -2 ? '10⁻²' : datum.value == -3 ? '10⁻³' : datum.value == -4 ? '10⁻⁴' : ''",
            "labelFlush": false, "labelOverlap": false,
            "labelFont": "Liberation Serif", "labelFontSize": 24, "labelColor": "#000000", "labelPadding": 15,
            "grid": true, "gridColor": "#222222", "gridDash": [2, 2], "gridWidth": 1,
            "gridOpacity": {"condition": {"test": "datum.value == round(datum.value)", "value": 1}, "value": 0},
            "ticks": true, "tickColor": "#000000", "tickWidth": 1.5,
            "tickSize": {"condition": {"test": "datum.value == round(datum.value)", "value": -10}, "value": -6},
            "domainColor": "#000000", "domainWidth": 2,
            "title": "σ [b],\u2003\u2003 Flux [10¹⁰/MeV/cm²/s]", "titleFont": "Liberation Serif", "titleFontSize": 26, "titleFontWeight": "normal", "titleColor": "#000000",
            "titleX": -80, "titleY": 297, "titleAngle": -90, "titleAlign": "center", "titleBaseline": "middle"
          }
        }
      }
    },
    {
      "data": {"name": "arrows"},
      "mark": {"type": "rule", "strokeWidth": 1.3},
      "encoding": {
        "x": {"field": "log10E", "type": "quantitative", "scale": {"domain": [-3, 2], "nice": false, "zero": false}, "axis": null},
        "y": {"field": "log10y", "type": "quantitative", "scale": {"domain": [-4, 5], "nice": false, "zero": false}, "axis": null},
        "x2": {"field": "log10E2"},
        "y2": {"field": "log10y2"},
        "color": {"field": "series", "type": "nominal", "legend": null}
      }
    },
    {
      "data": {"name": "arrows"},
      "mark": {"type": "point", "filled": true, "opacity": 1, "size": 380, "shape": "M0,0L-0.38,1.3L0.38,1.3Z"},
      "encoding": {
        "x": {"field": "log10E2", "type": "quantitative", "scale": {"domain": [-3, 2], "nice": false, "zero": false}, "axis": null},
        "y": {"field": "log10y2", "type": "quantitative", "scale": {"domain": [-4, 5], "nice": false, "zero": false}, "axis": null},
        "angle": {"field": "heading", "type": "quantitative", "scale": null},
        "color": {"field": "series", "type": "nominal", "legend": null}
      }
    },
    {
      "data": {"name": "labels"},
      "mark": {"type": "text", "font": "Liberation Serif", "fontSize": 19, "align": "center", "baseline": "middle"},
      "encoding": {
        "x": {"field": "log10E", "type": "quantitative", "scale": {"domain": [-3, 2], "nice": false, "zero": false}, "axis": null},
        "y": {"field": "log10y", "type": "quantitative", "scale": {"domain": [-4, 5], "nice": false, "zero": false}, "axis": null},
        "text": {"field": "text"},
        "color": {"field": "series", "type": "nominal", "legend": null}
      }
    },
    {
      "data": {"values": [{"text": "Neutron Flux in HFTM", "log10E": -2.168, "log10y": 3.214}]},
      "mark": {"type": "text", "font": "Liberation Serif", "fontSize": 17.5, "align": "center", "baseline": "middle", "color": "#000000"},
      "encoding": {
        "x": {"field": "log10E", "type": "quantitative", "scale": {"domain": [-3, 2], "nice": false, "zero": false}, "axis": null},
        "y": {"field": "log10y", "type": "quantitative", "scale": {"domain": [-4, 5], "nice": false, "zero": false}, "axis": null},
        "text": {"field": "text"}
      }
    },
    {
      "data": {"values": [{"text": "Evaluated data for ⁵⁶Fe", "log10E": 1.208, "log10y": 4.559}]},
      "mark": {"type": "text", "font": "Liberation Serif", "fontSize": 22.5, "align": "center", "baseline": "middle", "color": "#000000"},
      "encoding": {
        "x": {"field": "log10E", "type": "quantitative", "scale": {"domain": [-3, 2], "nice": false, "zero": false},
          "axis": {
            "orient": "top",
            "values": [-3,-2.69897,-2.52288,-2.39794,-2.30103,-2.22185,-2.1549,-2.09691,-2.04576,-2,-1.69897,-1.52288,-1.39794,-1.30103,-1.22185,-1.1549,-1.09691,-1.04576,-1,-0.69897,-0.52288,-0.39794,-0.30103,-0.22185,-0.1549,-0.09691,-0.04576,0,0.30103,0.47712,0.60206,0.69897,0.77815,0.8451,0.90309,0.95424,1,1.30103,1.47712,1.60206,1.69897,1.77815,1.8451,1.90309,1.95424,2],
            "labels": false, "grid": false, "title": null,
            "tickColor": "#000000", "tickWidth": 1.5,
            "tickSize": {"condition": {"test": "datum.value == round(datum.value)", "value": -10}, "value": -6},
            "domainColor": "#000000", "domainWidth": 2
          }
        },
        "y": {"field": "log10y", "type": "quantitative", "scale": {"domain": [-4, 5], "nice": false, "zero": false},
          "axis": {
            "orient": "right",
            "values": [-4,-3.69897,-3.52288,-3.39794,-3.30103,-3.22185,-3.1549,-3.09691,-3.04576,-3,-2.69897,-2.52288,-2.39794,-2.30103,-2.22185,-2.1549,-2.09691,-2.04576,-2,-1.69897,-1.52288,-1.39794,-1.30103,-1.22185,-1.1549,-1.09691,-1.04576,-1,-0.69897,-0.52288,-0.39794,-0.30103,-0.22185,-0.1549,-0.09691,-0.04576,0,0.30103,0.47712,0.60206,0.69897,0.77815,0.8451,0.90309,0.95424,1,1.30103,1.47712,1.60206,1.69897,1.77815,1.8451,1.90309,1.95424,2,2.30103,2.47712,2.60206,2.69897,2.77815,2.8451,2.90309,2.95424,3,3.30103,3.47712,3.60206,3.69897,3.77815,3.8451,3.90309,3.95424,4,4.30103,4.47712,4.60206,4.69897,4.77815,4.8451,4.90309,4.95424,5],
            "labels": false, "grid": false, "title": null,
            "tickColor": "#000000", "tickWidth": 1.5,
            "tickSize": {"condition": {"test": "datum.value == round(datum.value)", "value": -10}, "value": -6},
            "domainColor": "#000000", "domainWidth": 2
          }
        },
        "text": {"field": "text"}
      }
    }
  ]
}
